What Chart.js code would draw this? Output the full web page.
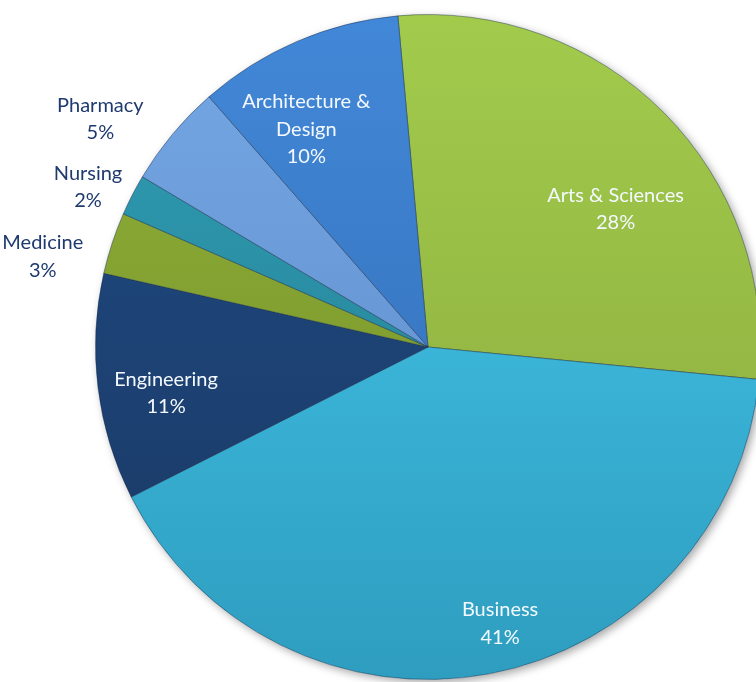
<!DOCTYPE html>
<html>
<head>
<meta charset="utf-8">
<script src="https://cdn.jsdelivr.net/npm/chart.js@4/dist/chart.umd.min.js"></script>
<style>
  html, body { margin: 0; padding: 0; background: #ffffff; }
  #wrap { width: 756px; height: 682px; overflow: hidden; position: relative; }
  #chart { display: block; }
</style>
</head>
<body>
<div id="wrap"><canvas id="chart" width="761" height="682"></canvas></div>
<script>
const categories = ["Arts & Sciences", "Business", "Engineering", "Medicine", "Nursing", "Pharmacy", "Architecture & Design"];
const labelLines = [["Arts & Sciences"], ["Business"], ["Engineering"], ["Medicine"], ["Nursing"], ["Pharmacy"], ["Architecture &", "Design"]];
const shares = [28, 41, 11, 3, 2, 5, 10];

// light (top) / dark (bottom) tone for each slice
const topColors = ["#a2cb4c", "#46cbf0", "#204c85", "#8fb036", "#2f9fb6", "#76a8e6", "#4288d8"];
const bottomColors = ["#89a83c", "#2e9dbf", "#193863", "#748e2a", "#24798c", "#5a86c4", "#3069b0"];

// label placement: radial factor and angular shift (deg) from slice middle, and text colour
const labelPlacement = [
  { r: 0.70, shift: 8.5, color: "#f4f9ff" },
  { r: 0.86, shift: -4, color: "#f4f9ff" },
  { r: 0.80, shift: -3, color: "#f4f9ff" },
  { r: 1.19, shift: -5, color: "#1f3a6e" },
  { r: 1.13, shift: -2, color: "#1f3a6e" },
  { r: 1.20, shift: -5, color: "#1f3a6e" },
  { r: 0.75, shift: -6, color: "#f4f9ff" },
];

const FONT = "Lato, 'Open Sans', sans-serif";

function sliceFill(context) {
  const chart = context.chart;
  const area = chart.chartArea;
  const i = context.dataIndex;
  if (!area) return topColors[i];
  const grad = chart.ctx.createLinearGradient(0, area.top, 0, area.bottom);
  grad.addColorStop(0, topColors[i]);
  grad.addColorStop(1, bottomColors[i]);
  return grad;
}

const shadowPlugin = {
  id: "pieShadow",
  beforeDatasetsDraw(chart) {
    const arc = chart.getDatasetMeta(0).data[0];
    if (!arc) return;
    const { x, y, outerRadius } = arc.getProps(["x", "y", "outerRadius"], true);
    const ctx = chart.ctx;
    ctx.save();
    ctx.shadowColor = "rgba(0,0,0,0.35)";
    ctx.shadowBlur = 8;
    ctx.shadowOffsetX = 3;
    ctx.shadowOffsetY = 3;
    ctx.beginPath();
    ctx.arc(x, y, outerRadius, 0, Math.PI * 2);
    ctx.fillStyle = "#ffffff";
    ctx.fill();
    ctx.restore();
  },
};

const labelPlugin = {
  id: "sliceLabels",
  afterDatasetsDraw(chart) {
    const ctx = chart.ctx;
    const meta = chart.getDatasetMeta(0);
    ctx.save();
    ctx.font = "20px " + FONT;
    ctx.textAlign = "center";
    ctx.textBaseline = "middle";
    meta.data.forEach((arc, i) => {
      const { x, y, startAngle, endAngle, outerRadius } = arc.getProps(["x", "y", "startAngle", "endAngle", "outerRadius"], true);
      const place = labelPlacement[i];
      const mid = (startAngle + endAngle) / 2 + (place.shift * Math.PI) / 180;
      const cx = x + Math.cos(mid) * outerRadius * place.r;
      const cy = y + Math.sin(mid) * outerRadius * place.r;
      const lines = labelLines[i].concat([shares[i] + "%"]);
      const lineHeight = 27.5;
      const startY = cy - ((lines.length - 1) * lineHeight) / 2;
      ctx.fillStyle = place.color;
      lines.forEach((line, k) => ctx.fillText(line, cx, startY + k * lineHeight));
    });
    ctx.restore();
  },
};

new Chart(document.getElementById("chart"), {
  type: "pie",
  data: {
    labels: categories,
    datasets: [
      {
        data: shares,
        backgroundColor: sliceFill,
        borderColor: "rgba(20, 40, 70, 0.45)",
        borderWidth: 1,
      },
    ],
  },
  options: {
    responsive: false,
    animation: false,
    rotation: -5.2,
    layout: { padding: { left: 95, right: 0, top: 14, bottom: 2 } },
    plugins: {
      legend: { display: false },
      tooltip: { enabled: false },
    },
  },
  plugins: [shadowPlugin, labelPlugin],
});
</script>
</body>
</html>
